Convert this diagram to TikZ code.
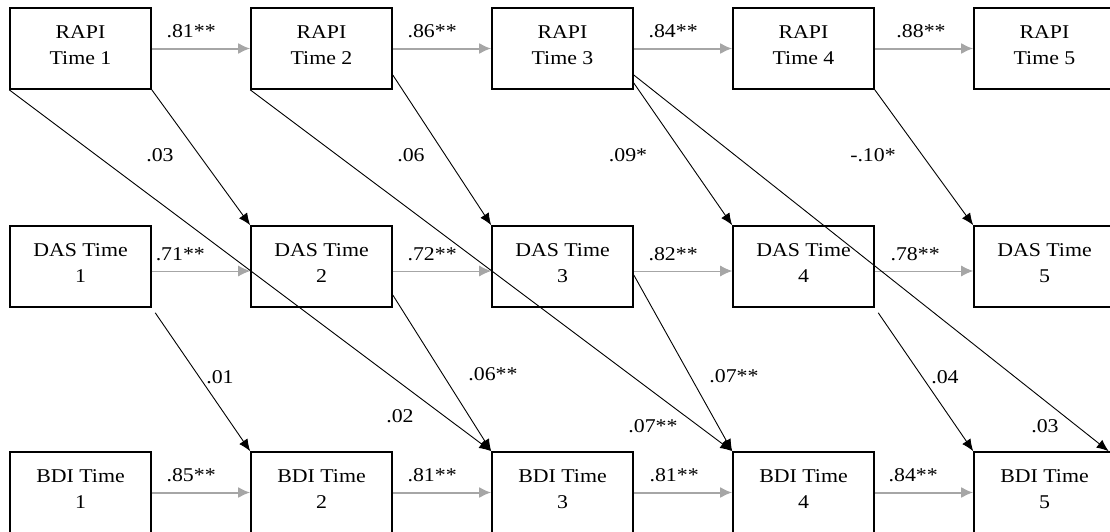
\documentclass[tikz,border=0pt]{standalone}
\usepackage{fontspec}
\setmainfont{Liberation Serif}[FakeStretch=1.12]
\usepackage{xcolor}
\usepackage{tikz}
\definecolor{mygray}{HTML}{A6A6A6}
\usetikzlibrary{arrows.meta,positioning,calc}

\begin{document}
\begin{tikzpicture}[x=1pt,y=-1pt,
    box/.style={draw,line width=1.6pt,minimum width=141pt,minimum height=81pt,inner sep=0pt,
        align=center,text depth=7pt,font=\fontsize{19.5}{25.3}\selectfont},
    coef/.style={inner sep=3pt,text=black,font=\fontsize{19.5}{23}\selectfont},
    autoreg/.style={->,>={Latex[length=12pt,width=11pt]},color=mygray,line width=2pt},
    crosslag/.style={->,>={Latex[length=12pt,width=10pt]},line width=0.9pt}]
    \useasboundingbox (0,0) rectangle (1110,531);
    \clip (0,0) rectangle (1110,531);

    % RAPI row
    \node[box] (r1) at (80.5,48.5) {RAPI\\Time 1};
    \node[box] (r2) at (321.5,48.5) {RAPI\\Time 2};
    \node[box] (r3) at (562.5,48.5) {RAPI\\Time 3};
    \node[box] (r4) at (803.5,48.5) {RAPI\\Time 4};
    \node[box] (r5) at (1044.5,48.5) {RAPI\\Time 5};

    % DAS row
    \node[box] (d1) at (80.5,266.5) {DAS Time\\1};
    \node[box] (d2) at (321.5,266.5) {DAS Time\\2};
    \node[box] (d3) at (562.5,266.5) {DAS Time\\3};
    \node[box] (d4) at (803.5,266.5) {DAS Time\\4};
    \node[box] (d5) at (1044.5,266.5) {DAS Time\\5};

    % BDI row
    \node[box] (b1) at (80.5,492.5) {BDI Time\\1};
    \node[box] (b2) at (321.5,492.5) {BDI Time\\2};
    \node[box] (b3) at (562.5,492.5) {BDI Time\\3};
    \node[box] (b4) at (803.5,492.5) {BDI Time\\4};
    \node[box] (b5) at (1044.5,492.5) {BDI Time\\5};

    \draw[autoreg] (r1) -- node[coef,above=7pt,pos=0.40] {.81**} (r2);
    \draw[autoreg] (r2) -- node[coef,above=7pt,pos=0.40] {.86**} (r3);
    \draw[autoreg] (r3) -- node[coef,above=7pt,pos=0.40] {.84**} (r4);
    \draw[autoreg] (r4) -- node[coef,above=7pt,pos=0.47] {.88**} (r5);

    \draw[autoreg,line width=1pt] ([yshift=-4.5pt]d1.east) -- node[coef,above=7pt,pos=0.29] {.71**} ([yshift=-4.5pt]d2.west);
    \draw[autoreg,line width=1pt] ([yshift=-4.5pt]d2.east) -- node[coef,above=7pt,pos=0.40] {.72**} ([yshift=-4.5pt]d3.west);
    \draw[autoreg,line width=1pt] ([yshift=-4.5pt]d3.east) -- node[coef,above=7pt,pos=0.40] {.82**} ([yshift=-4.5pt]d4.west);
    \draw[autoreg,line width=1pt] ([yshift=-4.5pt]d4.east) -- node[coef,above=7pt,pos=0.41] {.78**} ([yshift=-4.5pt]d5.west);

    \draw[autoreg] (b1) -- node[coef,above=7pt,pos=0.40] {.85**} (b2);
    \draw[autoreg] (b2) -- node[coef,above=7pt,pos=0.40] {.81**} (b3);
    \draw[autoreg] (b3) -- node[coef,above=7pt,pos=0.41] {.81**} (b4);
    \draw[autoreg] (b4) -- node[coef,above=7pt,pos=0.39] {.84**} (b5);

    % cross-lagged paths
    \coordinate (b5tip) at ($(b5.north west)!0.95!(b5.north east)$);
    \draw[crosslag] (r1.south east) -- (d2.north west);
    \draw[crosslag] (r1.south west) -- (b3.north west);
    \draw[crosslag] ($(r2.east)+(0,26.5)$) -- (d3.north west);
    \draw[crosslag] (r2.south west) -- (b4.north west);
    \draw[crosslag] ($(r3.east)+(0,34.5)$) -- (d4.north west);
    \draw[crosslag] ($(r3.east)+(0,26.5)$) -- (b5tip);
    \draw[crosslag] (r4.south east) -- (d5.north west);
    \draw[crosslag,shorten <=6pt] (d1.south east) -- (b2.north west);
    \draw[crosslag] ($(d2.east)+(0,28.5)$) -- (b3.north west);
    \draw[crosslag] ($(d3.east)+(0,8.5)$) -- (b4.north west);
    \draw[crosslag,shorten <=6pt] (d4.south east) -- (b5.north west);

    \node[coef] (r1d2) at (160,155) {.03};
    \node[coef] (r2d3) at (411,155) {.06};
    \node[coef] (r3d4) at (628,155) {.09*};
    \node[coef] (r4d5) at (873,155) {-.10*};
    \node[coef] (d1b2) at (220,377) {.01};
    \node[coef] (d2b3) at (493,374) {.06**};
    \node[coef] (d3b4) at (734,376) {.07**};
    \node[coef] (d4b5) at (945,377) {.04};
    \node[coef] (r1b3) at (400,416) {.02};
    \node[coef] (r2b4) at (653,426) {.07**};
    \node[coef] (r3b5) at (1045,426) {.03};
\end{tikzpicture}
\end{document}
